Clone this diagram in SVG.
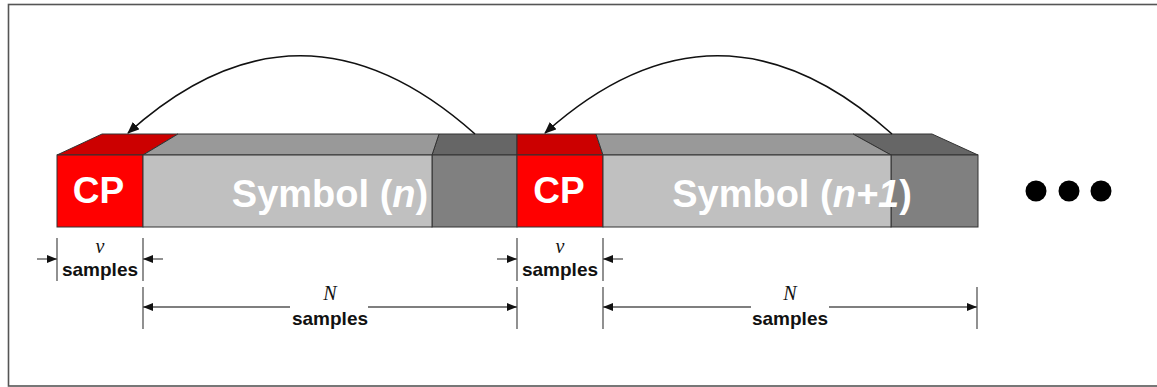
<svg xmlns="http://www.w3.org/2000/svg" width="1157" height="387" viewBox="0 0 1157 387">
<style>
.face{stroke:#333;stroke-width:1}
.cpf{fill:#ff0000}.cpt{fill:#cc0000}
.sf{fill:#c0c0c0}.st{fill:#999999}
.df{fill:#808080}.dt{fill:#666666}
.big{font-family:"Liberation Sans",Arial,sans-serif;font-weight:bold;fill:#fff;text-anchor:middle}
.lbl{font-family:"Liberation Sans",Arial,sans-serif;font-weight:bold;font-size:19px;fill:#111;text-anchor:middle}
.var{font-family:"Liberation Serif","Times New Roman",serif;font-style:italic;font-size:20px;fill:#111;text-anchor:middle}
.tick{stroke:#555;stroke-width:1.3;fill:none}
.dim{stroke:#555;stroke-width:1.3;fill:none;marker-end:url(#ah)}
.curve{stroke:#111;stroke-width:1.6;fill:none;marker-end:url(#ch)}
</style>
<defs>
<marker id="ah" viewBox="0 0 10 8" refX="10" refY="4" markerWidth="10" markerHeight="8" markerUnits="userSpaceOnUse" orient="auto">
<path d="M0,0 L10,4 L0,8 z" fill="#111"/>
</marker>
<marker id="ch" viewBox="0 0 12 10" refX="11" refY="5" markerWidth="12" markerHeight="10" markerUnits="userSpaceOnUse" orient="auto">
<path d="M0,0 L12,5 L0,10 z" fill="#111"/>
</marker>
</defs>
<rect x="8.5" y="4.5" width="1160" height="381.5" fill="#fff" stroke="#555" stroke-width="1.6"/>

<g id="cp1">
<polygon class="face cpt" points="57,155 143,155 178,134 102,134"/>
<rect class="face cpf" x="57" y="155" width="86" height="72"/>
<text class="big" x="98.5" y="203" font-size="37">CP</text>
</g>
<g id="tail-n">
<polygon class="face dt" points="432,155 517,155 517,134 439,134"/>
<rect class="face df" x="432" y="155" width="85" height="72"/>
</g>
<g id="symbol-n">
<polygon class="face st" points="143,155 432,155 439,134 178,134"/>
<rect class="face sf" x="143" y="155" width="289" height="72"/>
<text class="big" x="330" y="207" font-size="38">Symbol (<tspan font-style="italic">n</tspan>)</text>
</g>
<g id="cp2">
<polygon class="face cpt" points="517,155 603,155 596,134 517,134"/>
<rect class="face cpf" x="517" y="155" width="86" height="72"/>
<text class="big" x="559" y="203" font-size="37">CP</text>
</g>
<g id="tail-n1">
<polygon class="face dt" points="891,155 978,155 932,134 853,134"/>
<rect class="face df" x="891" y="155" width="87" height="72"/>
</g>
<g id="symbol-n1">
<polygon class="face st" points="603,155 891,155 853,134 596,134"/>
<rect class="face sf" x="603" y="155" width="288" height="72"/>
<text class="big" x="792" y="207" font-size="38">Symbol (<tspan font-style="italic">n+1</tspan>)</text>
</g>
<g id="ellipsis" fill="#000">
<circle cx="1036" cy="191" r="10.5"/>
<circle cx="1069" cy="191" r="10.5"/>
<circle cx="1101" cy="191" r="10.5"/>
</g>

<g id="connectors">
<path class="curve" d="M475,134 Q300,-22 128,133"/>
<path class="curve" d="M892,134 Q718,-22 545,133"/>

<line class="tick" x1="57" y1="238" x2="57" y2="281"/>
<line class="tick" x1="143" y1="238" x2="143" y2="281"/>
<line class="tick" x1="143" y1="287" x2="143" y2="329"/>
<line class="tick" x1="517" y1="238" x2="517" y2="281"/>
<line class="tick" x1="517" y1="287" x2="517" y2="329"/>
<line class="tick" x1="603" y1="238" x2="603" y2="281"/>
<line class="tick" x1="603" y1="287" x2="603" y2="329"/>
<line class="tick" x1="977" y1="287" x2="977" y2="329"/>

<line class="dim" x1="37" y1="259" x2="57" y2="259"/>
<line class="dim" x1="163" y1="259" x2="143" y2="259"/>
<line class="dim" x1="497" y1="259" x2="517" y2="259"/>
<line class="dim" x1="623" y1="259" x2="603" y2="259"/>

<line class="dim" x1="290" y1="307" x2="143" y2="307"/>
<line class="dim" x1="368" y1="307" x2="517" y2="307"/>
<line class="dim" x1="751" y1="307" x2="603" y2="307"/>
<line class="dim" x1="829" y1="307" x2="977" y2="307"/>
</g>

<g id="labels">
<text class="var" x="100" y="253">ν</text>
<text class="lbl" x="100" y="276">samples</text>
<text class="var" x="560" y="253">ν</text>
<text class="lbl" x="560" y="276">samples</text>
<text class="var" x="330" y="300">N</text>
<text class="lbl" x="330" y="325">samples</text>
<text class="var" x="790" y="300">N</text>
<text class="lbl" x="790" y="325">samples</text>
</g>
</svg>
